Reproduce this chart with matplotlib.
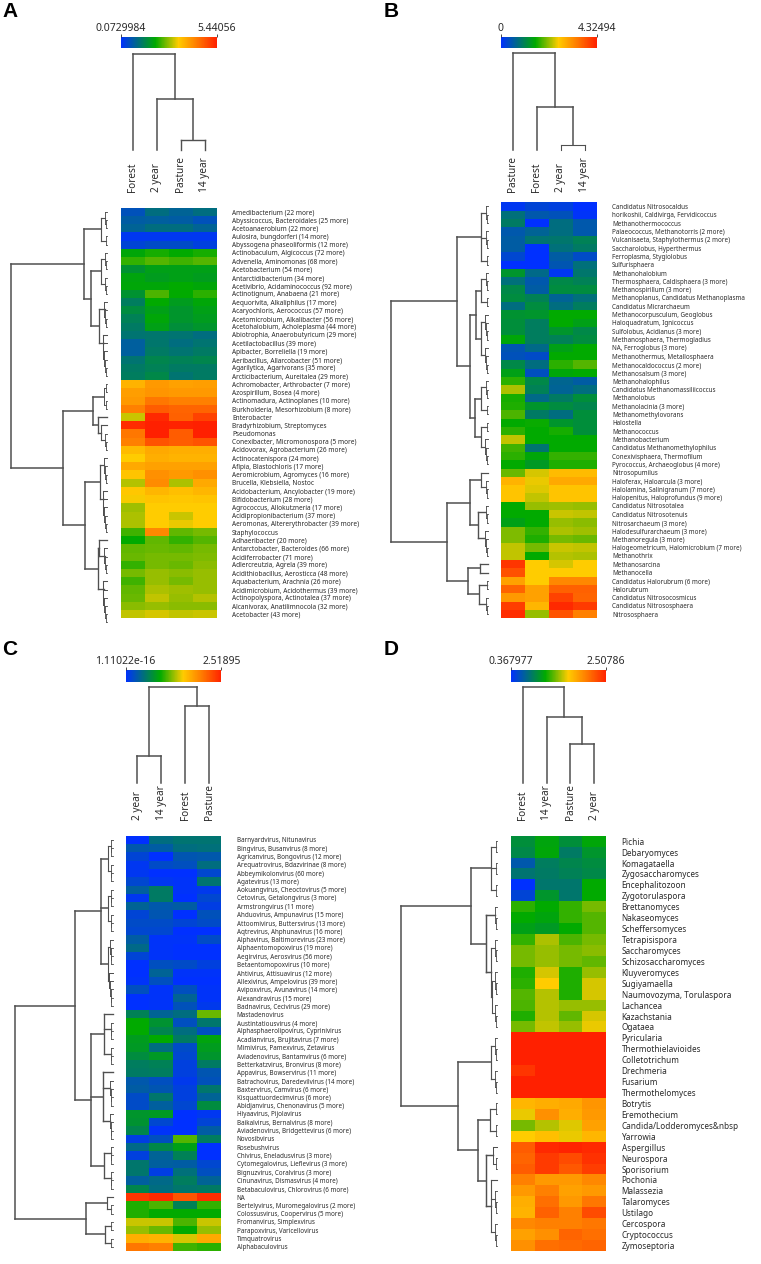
import numpy as np
import matplotlib
matplotlib.use("Agg")
import matplotlib.pyplot as plt
from matplotlib.colors import LinearSegmentedColormap, Normalize

W, H = 761, 1264
plt.rcParams['font.family'] = ['Noto Sans', 'DejaVu Sans']

a_columns = ["Forest", "2 year", "Pasture", "14 year"]
b_columns = ["Pasture", "Forest", "2 year", "14 year"]
c_columns = ["2 year", "14 year", "Forest", "Pasture"]
d_columns = ["Forest", "14 year", "Pasture", "2 year"]

a_range = (0.0729984, 5.44056)
b_range = (0.0, 4.32494)
c_range = (1.11022e-16, 2.51895)
d_range = (0.367977, 2.50786)
a_range_text = ("0.0729984", "5.44056")
b_range_text = ("0", "4.32494")
c_range_text = ("1.11022e-16", "2.51895")
d_range_text = ("0.367977", "2.50786")

a_rows = ["Amedibacterium (22 more)", "Abyssicoccus, Bacteroidales (25 more)", "Acetoanaerobium (22 more)",
          "Aulosira, bungdorferi (14 more)", "Abyssogena phaseoliformis (12 more)", "Actinobaculum, Algicoccus (72 more)",
          "Advenella, Aminomonas (68 more)", "Acetobacterium (54 more)", "Antarctidibacterium (34 more)",
          "Acetivibrio, Acidaminococcus (92 more)", "Actinotignum, Anabaena (21 more)", "Aequorivita, Alkaliphilus (17 more)",
          "Acaryochloris, Aerococcus (57 more)", "Acetomicrobium, Alkalibacter (56 more)", "Acetohalobium, Acholeplasma (44 more)",
          "Abiotrophia, Anaerobutyricum (29 more)", "Acetilactobacillus (39 more)", "Apibacter, Borreliella (19 more)",
          "Aeribacillus, Allarcobacter (51 more)", "Agarilytica, Agarivorans (35 more)", "Arcticibacterium, Aureitalea (29 more)",
          "Achromobacter, Arthrobacter (7 more)", "Azospirillum, Bosea (4 more)", "Actinomadura, Actinoplanes (10 more)",
          "Burkholderia, Mesorhizobium (8 more)", "Enterobacter", "Bradyrhizobium, Streptomyces", "Pseudomonas",
          "Conexibacter, Micromonospora (5 more)", "Acidovorax, Agrobacterium (26 more)", "Actinocatenispora (24 more)",
          "Afipia, Blastochloris (17 more)", "Aeromicrobium, Agromyces (16 more)", "Brucella, Klebsiella, Nostoc",
          "Acidobacterium, Ancylobacter (19 more)", "Bifidobacterium (28 more)", "Agrococcus, Allokutzneria (17 more)",
          "Acidipropionibacterium (37 more)", "Aeromonas, Altererythrobacter (39 more)", "Staphylococcus",
          "Adhaeribacter (20 more)", "Antarctobacter, Bacteroides (66 more)", "Acidiferrobacter (71 more)",
          "Adlercreutzia, Agrela (39 more)", "Acidithiobacillus, Aerosticca (48 more)", "Aquabacterium, Arachnia (26 more)",
          "Acidimicrobium, Acidothermus (39 more)", "Actinopolyspora, Actinotalea (37 more)",
          "Alcanivorax, Anatilimnocola (32 more)", "Acetobacter (43 more)"]
a_percent = [[10,18,15,18],[13,14,13,10],[15,18,18,15],[2,2,2,2],[6,8,8,5],[35,38,36,38],[41,44,42,44],[29,33,33,33],
             [34,32,33,32],[35,35,36,35],[29,43,36,40],[23,36,32,35],[27,33,30,33],[24,35,30,32],[22,33,28,30],
             [20,21,20,18],[14,21,18,20],[14,22,20,22],[20,25,24,25],[22,24,22,22],[23,26,20,22],[66,72,70,71],
             [71,73,72,72],[72,80,78,78],[78,86,84,84],[55,98,85,92],[97,100,99,100],[80,100,86,100],[78,88,86,88],
             [64,68,67,67],[60,67,66,66],[68,70,70,70],[62,74,72,74],[53,75,52,68],[61,65,63,65],[59,62,61,62],
             [51,60,60,60],[52,60,55,60],[52,60,58,60],[42,76,45,47],[36,45,41,44],[45,46,45,47],[46,47,47,48],
             [41,47,46,49],[47,50,49,50],[42,50,47,50],[45,52,51,50],[46,54,50,53],[49,50,49,49],[54,56,54,55]]

b_rows = ["Candidatus Nitrosocaldus", "horikoshii, Caldivirga, Fervidicoccus", "Methanothermococcus",
          "Palaeococcus, Methanotorris (2 more)", "Vulcanisaeta, Staphylothermus (2 more)", "Saccharolobus, Hyperthermus",
          "Ferroplasma, Stygiolobus", "Sulfurisphaera", "Methanohalobium", "Thermosphaera, Caldisphaera (3 more)",
          "Methanospirillum (3 more)", "Methanoplanus, Candidatus Methanoplasma", "Candidatus Micrarchaeum",
          "Methanocorpusculum, Geoglobus", "Haloquadratum, Ignicoccus", "Sulfolobus, Acidianus (3 more)",
          "Methanosphaera, Thermogladius", "NA, Ferroglobus (3 more)", "Methanothermus, Metallosphaera",
          "Methanocaldococcus (2 more)", "Methanosalsum (3 more)", "Methanohalophilus", "Candidatus Methanomassiliicoccus",
          "Methanolobus", "Methanolacinia (3 more)", "Methanomethylovorans", "Halostella", "Methanococcus",
          "Methanobacterium", "Candidatus Methanomethylophilus", "Conexivisphaera, Thermofilum",
          "Pyrococcus, Archaeoglobus (4 more)", "Nitrosopumilus", "Haloferax, Haloarcula (3 more)",
          "Halolamina, Salinigranum (7 more)", "Halopenitus, Haloprofundus (9 more)", "Candidatus Nitrosotalea",
          "Candidatus Nitrosotenuis", "Nitrosarchaeum (3 more)", "Halodesulfurarchaeum (3 more)", "Methanoregula (3 more)",
          "Halogeometricum, Halomicrobium (7 more)", "Methanothrix", "Methanosarcina", "Methanocella",
          "Candidatus Halorubrum (6 more)", "Halorubrum", "Candidatus Nitrosocosmicus", "Candidatus Nitrososphaera",
          "Nitrososphaera"]
b_percent = [[2,6,5,0],[19,12,10,1],[22,0,18,12],[12,15,18,12],[13,20,21,24],[13,0,19,22],[7,0,13,8],[0,0,11,19],
             [30,17,2,21],[19,12,26,24],[26,13,27,27],[27,24,15,19],[18,27,18,23],[29,30,36,36],[28,23,36,33],
             [28,23,30,26],[35,23,24,27],[11,17,33,36],[10,8,36,36],[26,18,40,44],[33,9,35,36],[40,26,16,13],
             [52,24,15,18],[38,17,22,28],[39,30,27,25],[43,22,18,28],[36,37,30,28],[40,36,38,28],[54,36,36,36],
             [42,20,36,36],[40,35,41,41],[36,31,39,39],[46,56,64,64],[66,58,68,68],[62,57,62,62],[62,54,62,62],
             [36,50,51,50],[36,36,55,54],[33,36,50,49],[48,41,52,51],[48,39,47,46],[54,47,55,54],[54,36,53,52],
             [95,60,56,60],[89,60,60,60],[70,60,76,76],[84,70,85,85],[72,70,92,84],[93,65,98,94],[97,50,88,78]]

c_rows = ["Barnyardvirus, Nitunavirus", "Bingvirus, Busanvirus (8 more)", "Agricanvirus, Bongovirus (12 more)",
          "Arequatrovirus, Bdazvirinae (8 more)", "Abbeymikolonvirus (60 more)", "Agatevirus (13 more)",
          "Aokuangvirus, Cheoctovirus (5 more)", "Cetovirus, Getalongvirus (3 more)", "Armstrongvirus (11 more)",
          "Ahduovirus, Ampunavirus (15 more)", "Attoomivirus, Buttersvirus (13 more)", "Aqtrevirus, Ahphunavirus (16 more)",
          "Alphavirus, Baltimorevirus (23 more)", "Alphaentomopoxvirus (19 more)", "Aegirvirus, Aerosvirus (56 more)",
          "Betaentomopoxvirus (10 more)", "Ahtivirus, Attisuavirus (12 more)", "Allexivirus, Ampelovirus (39 more)",
          "Avipoxvirus, Avunavirus (14 more)", "Alexandravirus (15 more)", "Badnavirus, Cecivirus (29 more)",
          "Mastadenovirus", "Austintatiousvirus (4 more)", "Alphasphaerolipovirus, Cyprinivirus",
          "Acadianvirus, Brujitavirus (7 more)", "Mimivirus, Pamexvirus, Zetavirus", "Aviadenovirus, Bantamvirus (6 more)",
          "Betterkatzvirus, Bronvirus (8 more)", "Appavirus, Bowservirus (11 more)", "Batrachovirus, Daredevilvirus (14 more)",
          "Baxtervirus, Camvirus (6 more)", "Kisquattuordecimvirus (6 more)", "Abidjanvirus, Chenonavirus (5 more)",
          "Hiyaavirus, Pijolavirus", "Baikalvirus, Bernalvirus (8 more)", "Aviadenovirus, Bridgettevirus (6 more)",
          "Novosibvirus", "Rosebushvirus", "Chivirus, Eneladusvirus (3 more)", "Cytomegalovirus, Lieflevirus (3 more)",
          "Bignuzvirus, Coralvirus (3 more)", "Cinunavirus, Dismasvirus (4 more)", "Betabaculovirus, Chlorovirus (6 more)",
          "NA", "Bertelyvirus, Muromegalovirus (2 more)", "Colossusvirus, Coopervirus (5 more)", "Fromanvirus, Simplexvirus",
          "Parapoxvirus, Varicellovirus", "Timquatrovirus", "Alphabaculovirus"]
c_percent = [[0,18,20,20],[12,13,18,19],[6,0,11,12],[2,8,9,18],[2,0,0,7],[7,2,1,20],[14,22,1,3],[2,22,0,7],[15,12,13,4],
             [6,11,0,10],[8,8,6,8],[7,7,0,0],[13,1,1,8],[17,1,0,0],[6,1,0,0],[0,9,8,5],[0,15,1,1],[1,9,0,0],[9,1,9,1],
             [0,1,15,1],[0,1,10,3],[24,15,18,46],[36,29,9,21],[36,25,18,9],[32,36,22,34],[31,18,8,32],[27,31,7,30],
             [23,24,5,22],[22,23,5,11],[12,9,3,10],[13,11,5,21],[8,21,5,15],[8,14,7,27],[30,31,0,2],[29,7,0,6],[25,1,0,13],
             [4,9,44,23],[17,26,33,0],[5,15,24,0],[21,14,13,7],[21,4,19,9],[14,17,23,15],[25,18,21,22],[95,98,88,97],
             [39,43,24,41],[39,36,36,36],[55,55,43,55],[50,46,36,50],[67,66,56,68],[80,78,42,40]]

d_rows = ["Pichia", "Debaryomyces", "Komagataella", "Zygosaccharomyces", "Encephalitozoon", "Zygotorulaspora",
          "Brettanomyces", "Nakaseomyces", "Scheffersomyces", "Tetrapisispora", "Saccharomyces", "Schizosaccharomyces",
          "Kluyveromyces", "Sugiyamaella", "Naumovozyma, Torulaspora", "Lachancea", "Kazachstania", "Ogataea", "Pyricularia",
          "Thermothielavioides", "Colletotrichum", "Drechmeria", "Fusarium", "Thermothelomyces", "Botrytis", "Eremothecium",
          "Candida/Lodderomyces&nbsp", "Yarrowia", "Aspergillus", "Neurospora", "Sporisorium", "Pochonia", "Malassezia",
          "Talaromyces", "Ustilago", "Cercospora", "Cryptococcus", "Zymoseptoria"]
d_percent = [[28,34,28,35],[26,35,22,30],[12,23,25,27],[20,22,24,26],[0,21,21,36],[6,30,21,36],[40,36,41,47],[36,34,41,44],
             [33,31,36,44],[41,52,43,47],[47,50,47,49],[47,50,47,45],[39,56,39,50],[40,60,39,56],[44,53,39,56],[43,53,50,50],
             [39,53,45,56],[47,54,50,58],[100,100,100,100],[100,100,100,100],[100,100,100,100],[95,100,100,100],
             [100,100,100,100],[100,100,100,100],[65,67,68,73],[58,74,67,72],[47,53,57,70],[60,63,58,65],[86,98,99,98],
             [84,94,90,96],[86,94,87,93],[78,72,72,76],[72,78,70,72],[67,82,72,80],[66,85,78,90],[76,78,78,80],[70,74,84,82],
             [74,82,83,84]]

# Dendrograms: (merge distance, child, child...); an integer child is that many neighbouring leaves.
a_row_tree = (96, (23, (5.7, 3, 2), (15.7, (5.7, 3, 3), (8, (2.3, 4), (3.3, 6)))),
              (44, (14, (3.3, 2, 2), (9, 1, (5.7, 1, 3))),
               (22, (7.3, (3, 4), (3.5, 6)), (9, (8, 1, (2.3, 4)), (3.2, 6)))))
b_row_tree = (96.7, (31, (7.3, 3, 3, 2), (18, (11.7, (6.7, 3, 2), (7, 4, 4)), (12.7, (6.7, 3, 2), (6.7, 2, 4)))),
              (41, (17.7, (6.7, 1, 3), (10, (3, 3), (4, 4))), (20, (8.3, 1, 1), (9, 2, 3))))
c_row_tree = (98, (38, (12, (5, 3, 3), (5, 3, 3), (5, 4, 5)),
                   (22, (9, 1, 3, 3), (10, 1, 4, 4), (9, 3, 3))),
              (27, (6, 1, 2), (8, 2, 2)))
d_row_tree = (95.7, (26, (6.3, 2, 2, 2), (11.3, (2.3, 3), (5.7, (2.3, 3), (4.7, 3, 3)))),
              (39, (6.3, 3, 3), (19, (6.7, 2, 2), (10.7, (4, 1, 2), (5.7, 1, 3, 3)))))

a_col_tree = (96.5, 1, (51.5, 1, (10, 1, 1)))
b_col_tree = (97, 1, (43, 1, (5, 1, 1)))
c_col_tree = (96, (27, 1, 1), (77, 1, 1))
d_col_tree = (96, 1, (66, 1, (39, 1, 1)))

cmap = LinearSegmentedColormap.from_list(
    "scale", [(0, "#0030ff"), (0.36, "#00aa00"), (0.6, "#ffcc00"), (0.78, "#ff8000"), (1, "#ff2000")])
LINE = "#505050"
TEXT = "#2a2a2a"

fig = plt.figure(figsize=(W / 100, H / 100), dpi=100, facecolor="white")


def px_axes(x0, y0, x1, y1):
    ax = fig.add_axes([x0 / W, 1 - y1 / H, (x1 - x0) / W, (y1 - y0) / H])
    ax.patch.set_alpha(0)
    return ax


def expand(node):
    if node == 1:
        return None
    if isinstance(node, int):
        return (node * 0.75, 1, node - 1 if node > 2 else 1)
    return node


def draw_tree(ax, node, counter, horizontal):
    node = expand(node)
    if node is None:
        counter[0] += 1
        return 0.0, counter[0] - 0.5
    d = node[0]
    kids = [draw_tree(ax, c, counter, horizontal) for c in node[1:]]
    pos = [k[1] for k in kids]
    mid = (pos[0] + pos[-1]) / 2
    lw = 0.55 + 0.55 * min(1.0, d / 12)
    for kd, kp in kids:
        xs, ys = [kd, d], [kp, kp]
        ax.plot(*((xs, ys) if horizontal else (ys, xs)), color=LINE, lw=lw,
                solid_capstyle="projecting", clip_on=False)
    xs, ys = [d, d], [pos[0], pos[-1]]
    ax.plot(*((xs, ys) if horizontal else (ys, xs)), color=LINE, lw=lw,
            solid_capstyle="projecting", clip_on=False)
    return d, mid


def panel(letter, letter_xy, columns, rows, percent, rng, rng_text, row_tree, col_tree,
          hx, hy, bar_y, col_leaf_y, col_label_y, row_den_x, row_fs, row_pad):
    lo, hi = rng
    values = lo + np.array(percent, float) / 100 * (hi - lo)
    n = len(rows)

    ax = px_axes(hx[0], hy[0], hx[1], hy[1])
    ax.pcolormesh(np.arange(5), np.arange(n + 1), values, cmap=cmap, norm=Normalize(lo, hi))
    ax.set_xlim(0, 4)
    ax.set_ylim(n, 0)
    ax.set_xticks([])
    ax.yaxis.tick_right()
    ax.set_yticks(np.arange(n) + 0.5)
    ax.set_yticklabels(rows, fontsize=row_fs, color=TEXT)
    ax.tick_params(axis="y", length=0, pad=row_pad)
    for s in ax.spines.values():
        s.set_visible(False)

    bar = px_axes(hx[0], bar_y[0], hx[1], bar_y[1])
    grad = np.linspace(lo, hi, 256)
    bar.pcolormesh(grad, [0, 1], grad[:-1][None, :], cmap=cmap, norm=Normalize(lo, hi))
    bar.set_xlim(lo, hi)
    bar.set_yticks([])
    bar.xaxis.tick_top()
    bar.set_xticks([lo, hi])
    bar.set_xticklabels(rng_text, fontsize=7.5, color=TEXT)
    bar.tick_params(axis="x", length=2.2, width=0.6, pad=0, color=TEXT)
    for s in bar.spines.values():
        s.set_visible(False)

    root = col_tree[0]
    den = px_axes(hx[0], col_leaf_y - root, hx[1], col_leaf_y)
    den.axis("off")
    den.set_xlim(0, 4)
    den.set_ylim(0, root)
    draw_tree(den, col_tree, [0], False)
    for i, name in enumerate(columns):
        den.annotate(name, xy=(i + 0.5, 0), xycoords="data",
                     xytext=(0, -(col_label_y - col_leaf_y) * 0.72), textcoords="offset points",
                     rotation=90, ha="center", va="bottom", fontsize=7.2, color=TEXT)

    rd = px_axes(row_den_x[0], hy[0], row_den_x[1], hy[1])
    rd.axis("off")
    rd.set_xlim(row_den_x[1] - row_den_x[0], 0)
    rd.set_ylim(n, 0)
    draw_tree(rd, row_tree, [0], True)

    fig.text(letter_xy[0] / W, 1 - letter_xy[1] / H, letter, fontsize=15, fontweight="bold",
             family="Liberation Sans", color="black", ha="left", va="baseline")


panel("A", (2, 17), a_columns, a_rows, a_percent, a_range, a_range_text, a_row_tree, a_col_tree,
      (120.7, 216.7), (207.7, 618.3), (36.7, 48.3), 150, 192, (11, 107), 4.7, 11)
panel("B", (384, 17), b_columns, b_rows, b_percent, b_range, b_range_text, b_row_tree, b_col_tree,
      (500.7, 596.7), (202.3, 618.3), (36.7, 48.3), 150, 192, (392, 488), 4.5, 11)
panel("C", (2, 655), c_columns, c_rows, c_percent, c_range, c_range_text, c_row_tree, c_col_tree,
      (125.5, 221.3), (835.7, 1251), (670, 681.5), 783.3, 820, (15, 113), 4.5, 11)
panel("D", (384, 655), d_columns, d_rows, d_percent, d_range, d_range_text, d_row_tree, d_col_tree,
      (510.7, 606.3), (835.7, 1251), (670, 681.5), 783.3, 820, (402, 497), 5.9, 11)

fig.savefig("out.png", dpi=100, facecolor="white")
